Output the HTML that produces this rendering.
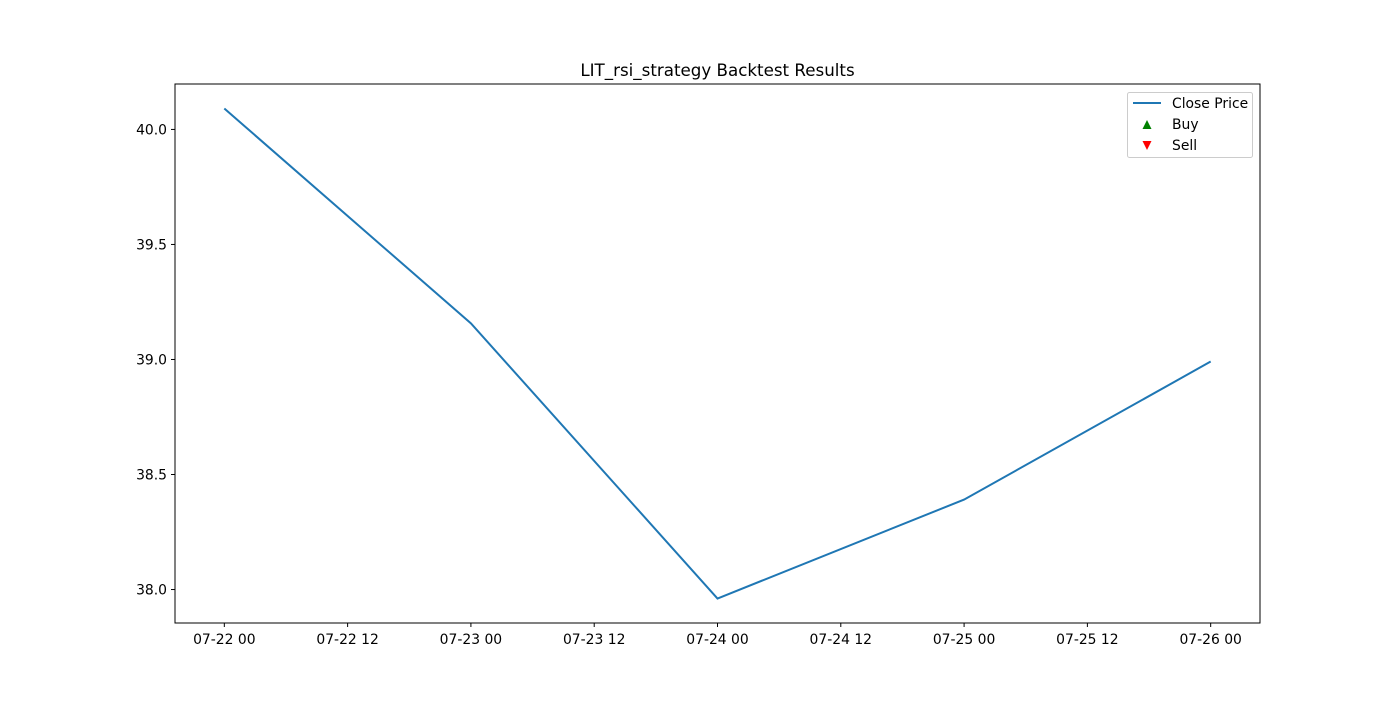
<!DOCTYPE html>
<html><head><meta charset="utf-8"><style>
body{margin:0;background:#fff;font-family:"DejaVu Sans","Liberation Sans",sans-serif;}
svg text{font-family:"DejaVu Sans","Liberation Sans",sans-serif;}
</style></head><body>
<svg width="1400" height="700" viewBox="0 0 1400 700" xmlns="http://www.w3.org/2000/svg">
<rect width="1400" height="700" fill="#fff"/>
<text x="717.5" y="76" text-anchor="middle" font-size="16.7" fill="#000">LIT_rsi_strategy Backtest Results</text>
<g id="plot"></g>
<rect x="175" y="84" width="1085" height="539" fill="none" stroke="#000" stroke-width="1"/>
<g>
<rect x="1127.5" y="92.5" width="125" height="65" fill="#fff" stroke="#ccc" rx="2"/>
<line x1="1133" y1="103" x2="1161" y2="103" stroke="#1f77b4" stroke-width="2"/>
<text x="1172" y="108" font-size="13.9">Close Price</text>
<polygon points="1147,120 1151.5,129 1142.5,129" fill="green"/>
<text x="1172" y="129" font-size="13.9">Buy</text>
<polygon points="1142.5,141 1151.5,141 1147,150" fill="red"/>
<text x="1172" y="150" font-size="13.9">Sell</text>
</g>
</svg>
<script>
const dates=["07-22","07-23","07-24","07-25","07-26"];
const closes=[40.091,39.157,37.961,38.391,38.991];
const yTicks=[38.0,38.5,39.0,39.5,40.0];
const xTickLabels=["07-22 00","07-22 12","07-23 00","07-23 12","07-24 00","07-24 12","07-25 00","07-25 12","07-26 00"];
const NS="http://www.w3.org/2000/svg";
const g=document.getElementById("plot");
const L=175,R=1260,T=84,B=623;
const n=dates.length;
const pad=(n-1)*0.05;
const xs=i=>L+(i+pad)/((n-1)+2*pad)*(R-L);
const mn=Math.min(...closes),mx=Math.max(...closes),m=(mx-mn)*0.05;
const y0=mn-m,y1=mx+m;
const ys=v=>B-(v-y0)/(y1-y0)*(B-T);
function mk(t,a){const e=document.createElementNS(NS,t);for(const k in a)e.setAttribute(k,a[k]);g.appendChild(e);return e;}
yTicks.forEach(v=>{const y=ys(v);
const l=mk("line",{x1:L-4,x2:L,y1:y,y2:y,stroke:"#000"});


const t=mk("text",{x:L-8,y:y+5,"text-anchor":"end","font-size":"13.9"});t.textContent=v.toFixed(1);


});
xTickLabels.forEach((s,i)=>{const x=xs(i/2);
const l=mk("line",{x1:x,x2:x,y1:B,y2:B+4,stroke:"#000"});


const t=mk("text",{x:x,y:B+21,"text-anchor":"middle","font-size":"13.9"});t.textContent=s;


});
const p=mk("polyline",{points:closes.map((v,i)=>xs(i)+","+ys(v)).join(" "),fill:"none",stroke:"#1f77b4","stroke-width":"2"});


</script>
</body></html>
